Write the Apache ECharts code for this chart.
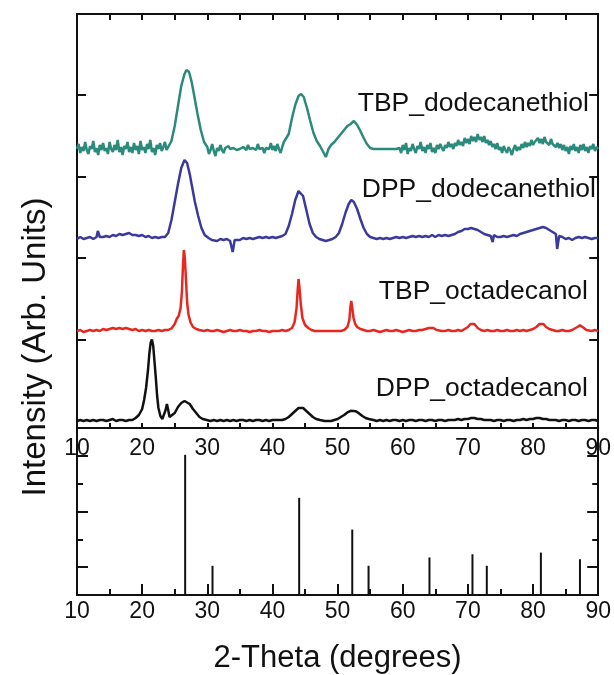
<!DOCTYPE html>
<html>
<head>
<meta charset="utf-8">
<script src="https://cdn.jsdelivr.net/npm/echarts@6/dist/echarts.min.js"></script>
<style>
html,body{margin:0;padding:0;background:#fff;}
#chart{width:614px;height:675px;}
</style>
</head>
<body>
<div id="chart"></div>
<script>
// 2-Theta (deg), intensity (arb. units, stacked with offsets as drawn)
const tbpDodecanethiol = [
[10,139.5],[10.25,142],[10.5,137.5],[10.75,140.5],[11,138.5],[11.25,143],[11.5,139],[11.75,137],[12,141],[12.25,139.5],
[12.5,143.5],[12.75,138],[13,140],[13.25,136.5],[13.5,141.5],[13.75,139],[14,142.5],[14.25,138.5],[14.5,140],[14.75,137],
[15,143],[15.25,139.5],[15.5,138],[15.75,141.5],[16,139],[16.25,144],[16.5,138],[16.75,140.5],[17,136.5],[17.25,141],
[17.5,139.5],[17.75,143],[18,138],[18.25,140.5],[18.5,137.5],[18.75,142.5],[19,139],[19.25,141],[19.5,137],[19.75,143.5],
[20,139],[20.25,140.5],[20.5,137.5],[20.75,142],[21,139.5],[21.25,144],[21.5,138],[21.75,140],[22,136.5],[22.25,141.5],
[22.5,139.5],[22.75,142.5],[23,138.5],[23.25,140.5],[23.5,143],[23.75,139],[24,140.5],[24.5,143.5],
[25,151],[25.5,161],[26,171],[26.5,177],[26.8,179],[27.2,178],[27.6,173],[28,166],[28.5,157],[29,149],
[29.5,143],[30,140.5],[30.25,137],[30.5,139],[30.75,142],[31,138.5],[31.25,136],[31.5,140],[31.75,138.5],[32,141.5],
[32.25,139],[32.5,137.5],[32.75,140],[33,139],[33.25,141],[33.5,139.5],[34,140],[34.5,139],[35,139.5],[35.5,140.5],
[36,139],[36.25,141.5],[36.5,139.5],[37,140],[37.5,139],[37.75,142],[38,139.5],[38.5,140],[38.75,137.5],[39,140],
[39.5,139.5],[39.75,142.5],[40,139],[40.25,141],[40.5,138.5],[40.75,142],[41,139.5],[41.25,137.5],[41.5,140.5],[41.75,143],
[42,142.5],[42.5,147],[43,155],[43.5,161.5],[44,166],[44.4,167],[44.8,165.5],[45.3,160],[45.8,153.5],[46.3,147.5],
[46.8,143.5],[47.3,141],[47.8,138],[48.2,135.5],[48.6,139.5],[49,141.5],[49.5,143],[50,145],[50.5,147],[51,149],
[51.5,151],[52,152],[52.5,153.5],[53,151.5],[53.5,148.5],[54,145],[54.5,142],[55,140],[55.5,139.5],[56,139.5],
[57,139.5],[58,139.5],[59,139.5],[59.5,140],[59.75,137.5],[60,141.5],[60.25,139],[60.5,142.5],[60.75,137],[61,140],
[61.25,138.5],[61.5,142],[61.75,139.5],[62,137.5],[62.25,141],[62.5,139.5],[62.75,143],[63,138.5],[63.25,140.5],[63.5,137.5],
[63.75,141.5],[64,139.5],[64.25,142.5],[64.5,138],[64.75,140],[65,137.5],[65.25,141.5],[65.5,139.5],[65.75,142],[66,140],
[66.25,138.5],[66.5,141.5],[66.75,140],[67,143],[67.25,140.5],[67.5,142],[67.75,139.5],[68,142.5],[68.25,141],[68.5,144],
[68.75,141.5],[69,143],[69.25,141],[69.5,145],[69.75,142.5],[70,144.5],[70.25,142],[70.5,146],[70.75,143.5],[71,145.5],
[71.25,143],[71.5,147],[71.75,144],[72,145.5],[72.25,143],[72.5,146],[72.75,142.5],[73,144],[73.25,141.5],[73.5,143.5],
[73.75,140.5],[74,142],[74.25,139.5],[74.5,142.5],[74.75,139],[75,140.5],[75.25,137.5],[75.5,141],[75.75,139],[76,137.5],
[76.25,140.5],[76.5,139],[76.75,136.5],[77,139.5],[77.25,141.5],[77.5,138.5],[77.75,140.5],[78,139],[78.25,142],[78.5,140],
[78.75,143],[79,140.5],[79.25,142.5],[79.5,141],[79.75,144],[80,141.5],[80.25,143],[80.5,142],[80.75,145],[81,142.5],
[81.25,144.5],[81.5,142],[81.75,145.5],[82,143],[82.25,144],[82.5,141.5],[82.75,144.5],[83,142],[83.25,143],[83.5,140.5],
[83.75,142.5],[84,140],[84.25,142],[84.5,139],[84.75,141.5],[85,138.5],[85.25,140.5],[85.5,137],[85.75,141],[86,139],
[86.25,142],[86.5,138.5],[86.75,140.5],[87,137.5],[87.25,141.5],[87.5,139],[87.75,142],[88,138.5],[88.25,140.5],[88.5,137.5],
[88.75,141],[89,139.5],[89.25,142],[89.5,138.5],[89.75,140.5],[90,139.5]
];
const dppDodecanethiol = [
[10,94.5],[10.5,95.5],[11,94.5],[11.5,95],[12,95.5],[12.5,94.5],[13,95.5],[13.2,98.5],[13.5,95.5],[14,95.5],
[14.5,96],[15,95.5],[15.5,96.5],[16,96],[16.5,97],[17,96.5],[17.5,97],[18,97.5],[18.5,96.5],[19,96.5],
[19.5,96],[20,96.5],[20.5,95.5],[21,96],[21.5,95],[22,95.5],[22.5,95],[23,95.5],[23.5,95.5],[24,97.5],
[24.5,104],[25,113],[25.5,122],[26,130],[26.5,134],[26.9,132.5],[27.3,127],[27.7,120],[28.1,113],[28.6,106],
[29.1,100],[29.6,96.5],[30.2,95],[30.7,94],[31,94.5],[31.5,93.5],[32,94.5],[32.5,94],[33,94.5],[33.5,93.5],
[33.9,88],[34.2,94],[34.5,94.5],[35,94],[35.5,95],[36,94.5],[36.5,95],[37,94.5],[37.5,95],[38,95.5],
[38.5,95],[39,95.5],[39.5,95],[40,95.5],[40.5,95],[41,95.5],[41.5,96],[42,97],[42.5,101],[43,107],
[43.5,114],[44,118.5],[44.3,119],[44.7,116],[45.2,109],[45.7,102],[46.2,97.5],[46.7,95.5],[47.2,94.5],[47.7,94],
[48.2,93.5],[48.7,94],[49.2,94.5],[49.7,95.5],[50.2,97.5],[50.7,102],[51.2,107.5],[51.7,112],[52.1,114],[52.5,113],
[53,109.5],[53.5,104.5],[54,100],[54.5,97],[55,95.5],[55.5,95],[56,94.5],[56.5,95],[57,94.5],[57.5,95],
[58,94.5],[58.5,95],[59,95.5],[59.5,95],[60,95.5],[60.5,95],[61,95.5],[61.5,96],[62,95.5],[62.5,96],
[63,95.5],[63.5,96],[64,95.5],[64.5,96.5],[65,95.5],[65.5,96.5],[66,96],[66.5,96.5],[67,96],[67.5,96.5],
[68,97],[68.5,98],[69,98.5],[69.5,99.5],[70,99.5],[70.5,100],[71,99.5],[71.5,99],[72,98],[72.5,97],
[73,96.5],[73.5,96],[73.8,93],[74,96.5],[74.5,95.5],[75,95.5],[75.5,96],[76,95.5],[76.5,96],[77,96.5],
[77.5,96],[78,97],[78.5,97.5],[79,98],[79.5,98.5],[80,99],[80.5,99.5],[81,100],[81.5,100.5],[82,100],
[82.5,99],[83,98],[83.5,97],[83.7,89.5],[84,96],[84.5,95.5],[85,94.5],[85.5,95],[86,94],[86.5,95],
[87,95.5],[87.5,95],[88,95.5],[88.5,95],[89,94.5],[89.5,95],[90,95]
];
const tbpOctadecanol = [
[10,48.5],[10.5,49],[11,48],[11.5,48.5],[12,49],[12.5,48.5],[13,49],[13.5,48.5],[14,49.5],[14.5,49],
[15,49.5],[15.5,50],[16,49.5],[16.5,50],[17,49.5],[17.5,50],[18,49.5],[18.5,49],[19,49.5],[19.5,48.5],
[20,49],[20.5,48.5],[21,49],[21.5,48.5],[22,48.5],[22.5,49],[23,48.5],[23.5,49],[24,49],[24.5,49.8],
[25,52],[25.3,54.5],[25.6,56],[25.9,60],[26.1,68],[26.25,80],[26.4,89],[26.55,85],[26.7,76],[26.9,63],
[27.1,57],[27.4,53],[27.8,50.5],[28.3,49.5],[28.8,49],[29.5,48.5],[30,49],[30.5,48.5],[31,48.5],[31.5,49],
[32,48.5],[32.5,48],[33,48.5],[33.5,49],[34,48.5],[34.5,48.5],[35,49],[35.5,48.5],[36,48.5],[36.5,48],
[37,48.5],[37.5,48.5],[38,49],[38.5,48.5],[39,48.5],[39.5,48],[40,48.5],[40.5,48.5],[41,48.5],[41.5,49],
[42,48.5],[42.5,49],[43,50],[43.4,53],[43.7,60],[43.85,68],[44,74.5],[44.15,70],[44.35,62],[44.6,55],
[45,51.5],[45.5,50],[46,49],[46.5,48.5],[47,48.5],[47.5,48.5],[48,48.5],[48.5,48.5],[49,48.5],[49.5,48.5],
[50,48.5],[50.5,48.5],[51,49],[51.5,50.5],[51.8,54],[51.95,60],[52.1,63.5],[52.25,60],[52.45,55],[52.7,52],
[53,50.5],[53.5,49.5],[54,49],[54.5,48.5],[55,48.5],[55.5,49],[56,48.5],[56.5,48],[57,48.5],[57.5,49],
[58,48.5],[58.5,48.5],[59,49],[59.5,48.5],[60,48],[60.5,48.5],[61,49],[61.5,48.5],[62,48.5],[62.5,49],
[63,49],[63.5,49.5],[64,50],[64.3,50.5],[64.7,50],[65.2,49],[65.5,49],[66,48.5],[66.5,48.5],[67,49],
[67.5,48.5],[68,48.5],[68.5,49],[69,48.5],[69.5,49.5],[70,50.5],[70.4,52],[70.7,52.8],[71,52],[71.5,50],
[72,49],[72.5,48.5],[73,49],[73.5,48.5],[74,48.5],[74.5,49],[75,48.5],[75.5,48.5],[76,49],[76.5,48.5],
[77,48.5],[77.5,49],[78,48.5],[78.5,49],[79,48.5],[79.5,49],[80,49.5],[80.5,50.5],[81,52],[81.3,53],
[81.6,52],[82,50.5],[82.5,49.5],[83,49],[83.5,48.5],[84,48.5],[84.5,49],[85,48.5],[85.5,48.5],[86,49],
[86.3,49.5],[86.8,50.5],[87.2,51.3],[87.6,50.5],[88.2,49],[89,48.5],[89.5,49],[90,48.5]
];
const dppOctadecanol = [
[10,3.5],[10.5,4],[11,3.5],[11.5,4],[12,3.5],[12.5,4],[13,3.5],[13.5,4],[14,4],[14.5,3.5],
[15,4],[15.5,4.5],[16,3.5],[16.5,4],[17,4],[17.5,3.5],[18,4],[18.5,4],[19,5],[19.5,6.5],
[20,9.5],[20.3,14],[20.6,20],[20.9,29],[21.1,37],[21.3,42.5],[21.5,44.3],[21.7,41],[21.9,33],[22.1,25],
[22.3,16],[22.5,10],[22.8,6],[23.1,4.5],[23.4,5.5],[23.6,9],[23.8,12],[24,9],[24.2,5.5],[24.5,5],
[25,7.5],[25.5,10.5],[26,12.5],[26.5,13.5],[26.8,13.5],[27.3,12],[27.8,9.5],[28.3,7.5],[28.8,5.5],[29.3,4.5],
[29.9,4],[30.5,3.5],[31,4],[31.5,3.5],[32,4],[32.5,3.5],[33,4],[33.5,3.5],[34,4],[34.5,3.5],
[35,4],[35.5,4],[36,3.5],[36.5,4],[37,3.5],[37.5,4],[38,4],[38.5,3.5],[39,4],[39.5,3.5],
[40,4],[40.5,4],[41,4],[41.5,4],[42,4.5],[42.5,5.5],[43,7],[43.5,8.5],[44,10],[44.3,10.5],
[44.7,10],[45.2,8.5],[45.7,7],[46.2,5.5],[46.7,4.5],[47.3,4],[48,3.5],[48.5,3.5],[49,3.5],[49.5,4],
[50,4.5],[50.5,5.5],[51,6.5],[51.5,7.8],[52,8.6],[52.3,8.8],[52.8,8.4],[53.3,7.3],[53.8,6],[54.3,5],
[54.8,4.5],[55.5,4],[56,3.5],[56.5,4],[57,3.5],[57.5,4],[58,3.5],[58.5,4],[59,4],[59.5,3.5],
[60,4],[60.5,3.5],[61,4],[61.5,4],[62,3.5],[62.5,4],[63,4],[63.5,3.5],[64,4],[64.5,4],
[65,3.5],[65.5,4],[66,4],[66.5,3.5],[67,4],[67.5,4],[68,4],[68.5,4.5],[69,4],[69.5,4.5],
[70,4.5],[70.5,5],[71,5],[71.5,4.5],[72,4.5],[72.5,4],[73,4],[73.5,4],[74,3.5],[74.5,4],
[75,4],[75.5,3.5],[76,4],[76.5,4],[77,3.5],[77.5,4],[78,4],[78.5,4.5],[79,4],[79.5,4.5],
[80,4.5],[80.5,5],[81,5],[81.5,4.5],[82,4.5],[82.5,4],[83,4],[83.5,4],[84,3.5],[84.5,4],
[85,4],[85.5,3.5],[86,4],[86.5,4],[87,3.5],[87.5,4],[88,4],[88.5,3.5],[89,4],[89.5,4],[90,3.5]
];
// reference pattern (stick lines): [2-Theta, relative intensity]
const referenceSticks = [
[26.6,100.7],[30.8,21],[44.1,69.8],[52.25,47],[54.75,21],[64.1,27],[70.7,29.3],[72.9,21],[81.2,30.5],[87.2,25.7]
];
const topTickValues = [44, 85, 125.5, 166.5];
const refMajorTicks = [20, 60, 100];
const refAllTicks = [20, 40, 60, 80, 100];
const sampleNames = ['TBP_dodecanethiol','DPP_dodecanethiol','TBP_octadecanol','DPP_octadecanol'];
const sampleColors = ['#2b8a7b','#3a3a9c','#e8271f','#111111'];

const FONT = '"Liberation Sans", Arial, sans-serif';
const AX = {color:'#111', width:2};
const chart = echarts.init(document.getElementById('chart'), null, {renderer:'canvas'});

function yDeco(gridIndex, pos, min, max, ticks, len, showLine){
  return {type:'value', gridIndex, position:pos, min, max,
    axisLine:{show:showLine, onZero:false, lineStyle:AX},
    axisTick:{show:true, inside:true, length:len, customValues:ticks, lineStyle:AX},
    axisLabel:{show:false}, splitLine:{show:false}};
}

const option = {
  animation:false,
  backgroundColor:'#fff',
  grid:[
    {left:77, width:522, top:14, height:414},
    {left:77, width:522, top:428, height:168}
  ],
  xAxis:[
    {type:'value', gridIndex:0, position:'bottom', min:10, max:90, interval:5,
     axisLine:{onZero:false, lineStyle:AX},
     axisTick:{inside:true, length:5, lineStyle:AX},
     axisLabel:{margin:9, fontSize:23, color:'#111', fontFamily:FONT,
       formatter:v => (v % 10 === 0 ? String(v) : '')},
     splitLine:{show:false}, z:5},
    {type:'value', gridIndex:0, position:'top', min:10, max:90, interval:5,
     axisLine:{onZero:false, lineStyle:AX},
     axisTick:{inside:true, length:6, lineStyle:AX},
     axisLabel:{show:false}, splitLine:{show:false}},
    {type:'value', gridIndex:1, position:'bottom', min:10, max:90, interval:10,
     axisLine:{onZero:false, lineStyle:AX},
     axisTick:{inside:true, length:11, lineStyle:AX},
     minorTick:{show:true, splitNumber:2, length:6, lineStyle:AX},
     axisLabel:{margin:5, fontSize:23, color:'#111', fontFamily:FONT},
     name:'2-Theta (degrees)', nameLocation:'middle', nameGap:48,
     nameTextStyle:{fontSize:31, color:'#111', fontFamily:FONT},
     splitLine:{show:false}}
  ],
  yAxis:[
    yDeco(0,'left',0,207,topTickValues,9,true),
    yDeco(0,'right',0,207,topTickValues,9,true),
    yDeco(1,'left',0,120,refAllTicks,6,true),
    yDeco(1,'left',0,120,refMajorTicks,11,false),
    yDeco(1,'right',0,120,refAllTicks,6,true),
    yDeco(1,'right',0,120,refMajorTicks,11,false)
  ],
  series:[
    {type:'line', name:sampleNames[0], xAxisIndex:0, yAxisIndex:0, data:tbpDodecanethiol,
     showSymbol:false, lineStyle:{color:sampleColors[0], width:2.5}, itemStyle:{color:sampleColors[0]}},
    {type:'line', name:sampleNames[1], xAxisIndex:0, yAxisIndex:0, data:dppDodecanethiol,
     showSymbol:false, lineStyle:{color:sampleColors[1], width:2.5}, itemStyle:{color:sampleColors[1]}},
    {type:'line', name:sampleNames[2], xAxisIndex:0, yAxisIndex:0, data:tbpOctadecanol,
     showSymbol:false, lineStyle:{color:sampleColors[2], width:2.5}, itemStyle:{color:sampleColors[2]}},
    {type:'line', name:sampleNames[3], xAxisIndex:0, yAxisIndex:0, data:dppOctadecanol,
     showSymbol:false, lineStyle:{color:sampleColors[3], width:2.5}, itemStyle:{color:sampleColors[3]}},
    {type:'bar', name:'reference', xAxisIndex:2, yAxisIndex:2, data:referenceSticks,
     barWidth:2, itemStyle:{color:'#111'}}
  ],
  graphic:[
    {type:'text', x:589, y:104, style:{text:sampleNames[0], font:'26.5px '+FONT, fill:'#111', textAlign:'right', textVerticalAlign:'middle'}},
    {type:'text', x:596, y:190, style:{text:sampleNames[1], font:'26.5px '+FONT, fill:'#111', textAlign:'right', textVerticalAlign:'middle'}},
    {type:'text', x:588, y:292, style:{text:sampleNames[2], font:'26.5px '+FONT, fill:'#111', textAlign:'right', textVerticalAlign:'middle'}},
    {type:'text', x:588, y:389, style:{text:sampleNames[3], font:'26.5px '+FONT, fill:'#111', textAlign:'right', textVerticalAlign:'middle'}},
    {type:'text', x:36, y:347, rotation:Math.PI/2, style:{text:'Intensity (Arb. Units)', font:'33px '+FONT, fill:'#111', textAlign:'center', textVerticalAlign:'middle'}}
  ]
};
chart.setOption(option);
</script>
</body>
</html>
